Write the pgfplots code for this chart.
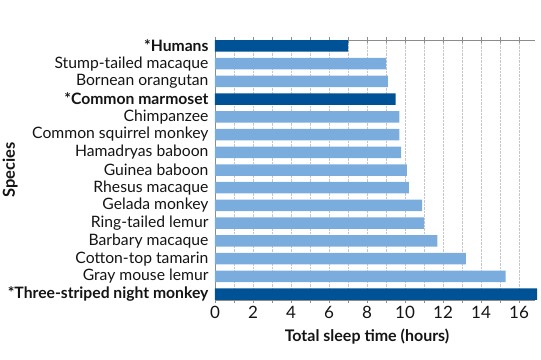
\documentclass[border=0pt]{standalone}
\usepackage{pgfplots}
\pgfplotsset{compat=1.18}
\usepackage{fontspec}
\setmainfont{Lato}
\definecolor{darkb}{RGB}{0,82,150}
\definecolor{lightb}{RGB}{122,173,222}
\definecolor{txt}{RGB}{20,20,20}
\begin{document}
\begin{tikzpicture}
\useasboundingbox (0,0) rectangle (541pt,359pt);
\begin{axis}[
  scale only axis, width=320pt, height=260pt,
  at={(215pt,59pt)}, anchor=south west,
  xbar, bar width=11.5pt,
  xmin=0, xmax=16.84, ymin=-0.33, ymax=14.33, y dir=reverse,
  axis x line=box, axis y line=left,
  axis line style={gray!90, line width=0.6pt, -},
  xtick={0,2,...,16}, minor x tick num=1,
  xticklabel pos=bottom,
  tick style={gray!90, line width=0.5pt},
  tick align=center, major tick length=6pt, minor tick length=6pt,
  xmajorgrids, xminorgrids,
  grid style={gray!45, densely dotted, line width=0.4pt},
  minor grid style={gray!45, densely dotted, line width=0.4pt},
  ytick={0,...,14}, major y tick style={draw=none},
  yticklabels={\textbf{*Humans},Stump-tailed macaque,Bornean orangutan,\textbf{*Common marmoset},Chimpanzee,Common squirrel monkey,Hamadryas baboon,Guinea baboon,Rhesus macaque,Gelada monkey,Ring-tailed lemur,Barbary macaque,Cotton-top tamarin,Gray mouse lemur,\textbf{*Three-striped night monkey}},
  yticklabel style={font=\fontsize{15.7}{15.7}\selectfont, text=txt, anchor=east, xshift=0pt},
  xticklabel style={font=\fontsize{17}{17}\selectfont, text=txt},
  /pgf/number format/assume math mode=true,
  xlabel={\textbf{Total sleep time (hours)}},
  ylabel={\textbf{Species}},
  every axis x label/.style={at={(axis description cs:0.475,-0.142)}, anchor=center, font=\fontsize{16}{16}\selectfont, text=txt},
  every axis y label/.style={at={(axis description cs:-0.64,0.5)}, rotate=90, anchor=center, font=\fontsize{16.5}{16.5}\selectfont, text=txt},
  clip=false,
]
\addplot[fill=lightb, draw=none, bar shift=0pt] coordinates {
(9.0,1) (9.1,2) (9.7,4) (9.7,5) (9.8,6) (10.1,7) (10.2,8) (10.9,9) (11.0,10) (11.7,11) (13.2,12) (15.3,13)};
\addplot[fill=darkb, draw=none, bar shift=0pt] coordinates {
(7.0,0) (9.5,3) (16.95,14)};
\end{axis}
\end{tikzpicture}
\end{document}
